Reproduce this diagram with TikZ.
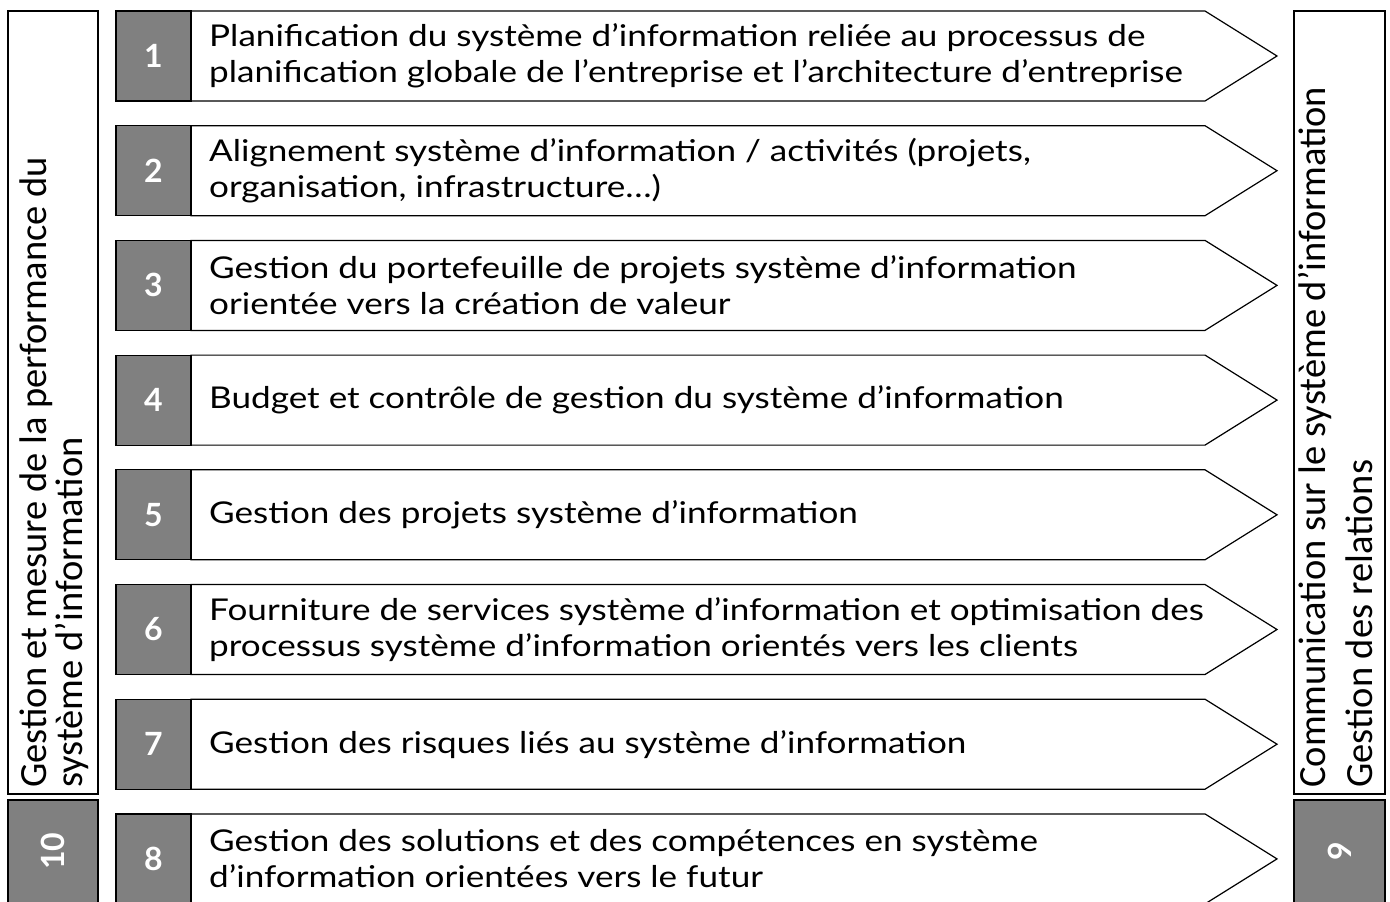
\documentclass[tikz,border=0pt]{standalone}
\usepackage{fontspec}
\setmainfont{Lato}
\newfontfamily\rowfont[FakeStretch=1.17]{Lato}
\newfontfamily\sidefont{Carlito}
\definecolor{boxgray}{RGB}{128,128,128}
\tikzset{
  numbox/.style={draw=black, line width=1.2pt, fill=boxgray},
  numtxt/.style={text=white, font=\bfseries\fontsize{32}{32}\selectfont, inner sep=0pt},
  arr/.style={draw=black, line width=1.2pt, fill=white},
  lbl/.style={anchor=west, align=left, font=\rowfont\fontsize{30}{36}\selectfont, inner sep=0pt},
  sidebox/.style={draw=black, line width=1.2pt, fill=white},
  sidelbl/.style={rotate=90, anchor=base west, font=\sidefont\fontsize{38.5}{38.5}\selectfont, inner sep=0pt},
}
\begin{document}
\begin{tikzpicture}[x=1pt,y=-1pt]
\useasboundingbox (0,0) rectangle (1390,902);
% left side
\draw[sidebox] (8,11) rectangle (98,794);
\node[sidelbl] (left1) at (46.5,788) {Gestion et mesure de la performance du};
\node[sidelbl] (left2) at (82,788) {système d’information};
\draw[numbox] (8,800) rectangle (98,910);
\node[numtxt, rotate=90] (n10) at (53,851) {10};
% right side
\draw[sidebox] (1294,11) rectangle (1385,794);
\node[sidelbl] (right1) at (1325,788) {Communication sur le système d’information};
\node[sidelbl] (right2) at (1372,788) {Gestion des relations};
\draw[numbox] (1294,800) rectangle (1385,910);
\node[numtxt, rotate=90] (n9) at (1339.5,851) {9};
% rows
\foreach \i/\txt in {
 1/{Planification du système d’information reliée au processus de\\planification globale de l’entreprise et l’architecture d’entreprise},
 2/{Alignement système d’information / activités (projets,\\organisation, infrastructure…)},
 3/{Gestion du portefeuille de projets système d’information\\orientée vers la création de valeur},
 4/{Budget et contrôle de gestion du système d’information},
 5/{Gestion des projets système d’information},
 6/{Fourniture de services système d’information et optimisation des\\processus système d’information orientés vers les clients},
 7/{Gestion des risques liés au système d’information},
 8/{Gestion des solutions et des compétences en système\\d’information orientées vers le futur}}
{
  \pgfmathsetmacro{\t}{11+(\i-1)*114.7}
  \pgfmathsetmacro{\b}{\t+90}
  \pgfmathsetmacro{\m}{\t+45}
  \draw[arr] (191,\t) -- (1205,\t) -- (1277,\m) -- (1205,\b) -- (191,\b) -- cycle;
  \draw[numbox] (116,\t) rectangle (191,\b);
  \node[numtxt] (num\i) at (153.5,\m) {\i};
  \node[lbl] (txt\i) at (209,\m) {\txt};
}
\end{tikzpicture}
\end{document}
